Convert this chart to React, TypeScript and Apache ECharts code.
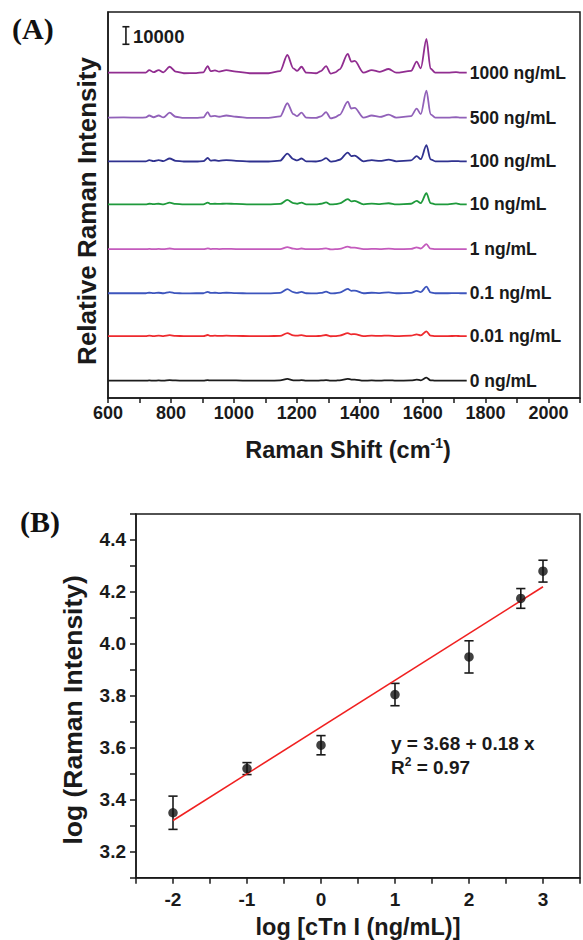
import React, { useEffect, useRef } from 'react';
import * as echarts from 'echarts';

// ---------- Panel A data ----------
const ramanShift = [600, 650, 700, 720, 731, 745, 761, 776, 796, 815, 841, 880, 903, 917, 926, 940, 953, 976, 1007, 1050, 1110, 1147, 1170, 1189, 1201, 1215, 1230, 1261, 1277, 1293, 1308, 1322, 1336, 1362, 1373, 1384, 1412, 1438, 1464, 1492, 1516, 1563, 1581, 1594, 1612, 1625, 1640, 1680, 1706, 1720, 1740];

const concLabels = ['0 ng/mL', '0.01 ng/mL', '0.1 ng/mL', '1 ng/mL', '10 ng/mL', '100 ng/mL', '500 ng/mL', '1000 ng/mL'];
const baselines = [9900, 35300, 59700, 84800, 110400, 134900, 159800, 185400];

const spec0 = [0, 0, 0, 0, 100, 0, 100, 0, 300, 100, 0, 0, 0, 300, 100, 100, 100, 100, 100, 0, 0, 100, 1000, 200, 100, 300, 0, 0, 100, 300, 0, 0, 200, 1000, 600, 600, 0, 100, 0, 200, 0, 100, 600, 200, 1700, 200, 0, 0, 0, 0, 0];
const spec001 = [0, 0, 0, 0, 200, 0, 200, 0, 500, 100, 0, 0, 0, 600, 100, 200, 100, 200, 100, 0, 0, 100, 1700, 400, 200, 500, 0, 0, 100, 600, -100, 0, 300, 1700, 1000, 1100, 0, 200, 100, 300, 0, 200, 1000, 400, 2700, 300, 0, 0, 100, 0, 0];
const spec01 = [0, 0, 0, 0, 300, 100, 300, 0, 700, 100, -100, 0, 0, 800, 200, 300, 100, 300, 100, -100, -100, 200, 2400, 600, 200, 800, 0, -100, 200, 900, -100, 0, 400, 2500, 1400, 1500, 0, 300, 100, 500, 0, 200, 1400, 600, 3800, 500, 0, 0, 100, 0, 0];
const spec1 = [0, 0, 0, 0, 200, 0, 200, 0, 400, 100, 0, 0, 0, 500, 100, 200, 100, 200, 100, 0, 0, 100, 1200, 300, 100, 400, 0, 0, 200, 500, -100, 0, 200, 1500, 900, 900, 0, 200, 100, 300, 0, 200, 1100, 400, 2900, 300, 0, 0, 100, 0, 0];
const spec10 = [0, 0, 0, 0, 300, 100, 300, 0, 900, 200, -100, -100, 0, 1000, 200, 300, 200, 400, 200, -100, -100, 200, 2500, 700, 300, 1000, 0, -100, 300, 1100, -100, 100, 500, 3000, 1700, 1900, 0, 400, 100, 600, 0, 300, 2000, 700, 6300, 700, 0, 0, 500, 0, 0];
const spec100 = [0, 0, 0, 0, 700, 100, 700, 100, 1600, 300, -100, -100, 100, 1900, 400, 600, 300, 700, 300, -100, -100, 400, 4400, 1200, 500, 1600, 0, -100, 400, 1800, -200, 100, 900, 5000, 3000, 3200, 0, 700, 200, 1000, 0, 500, 3000, 1200, 9200, 1100, 0, 0, 100, 0, 0];
const spec500 = [0, 100, 0, 100, 1200, 200, 1200, 100, 2800, 500, -200, -200, 100, 3100, 700, 1000, 500, 1200, 500, -200, -200, 700, 8200, 2000, 800, 2800, 0, -200, 700, 3100, -400, 200, 1600, 9100, 5200, 5500, 0, 1200, 400, 1700, 0, 800, 5100, 2000, 15400, 1900, 0, 0, 200, 0, 0];
const spec1000 = [0, 100, 0, 100, 1500, 300, 1500, 200, 3400, 600, -300, -200, 200, 3800, 900, 1300, 600, 1500, 600, -300, -300, 900, 10100, 2500, 1000, 3400, 0, -300, 900, 3800, -500, 200, 1900, 10700, 6300, 6700, 0, 1500, 500, 2100, 0, 1000, 6300, 2500, 19200, 2300, 0, 0, 300, 0, 0];
const spectra = [spec0, spec001, spec01, spec1, spec10, spec100, spec500, spec1000];

const scaleBarX = 657;
const scaleBarRange = [201600, 211600]; // 10000 counts
const scaleBarLabel = '10000';

// ---------- Panel B data ----------
const logConc = [-2, -1, 0, 1, 2, 2.7, 3];
const logIntensity = [3.35, 3.52, 3.61, 3.805, 3.95, 4.175, 4.28];
const logIntensityErr = [0.064, 0.023, 0.037, 0.043, 0.062, 0.038, 0.042];
const fitIntercept = 3.68;
const fitSlope = 0.18;
const fitRange = [-2, 3];
const r2 = '0.97';

// ---------- styles ----------
const lineColors = ['#1c1c1c', '#ee2a2e', '#3d55bd', '#c45bbd', '#1f9a3c', '#2f318f', '#9161b9', '#912d90'];
const FONT = '"Liberation Sans", Arial, sans-serif';
const SERIF = '"Liberation Serif", "Times New Roman", serif';
const INK = '#1a1a1a';

export default function App() {
  const ref = useRef<HTMLDivElement>(null);

  useEffect(() => {
    if (!ref.current) return;
    const chart = echarts.init(ref.current, undefined, { renderer: 'svg' });

    const spectraSeries = spectra.map((s, k) => ({
      type: 'line',
      name: concLabels[k],
      xAxisIndex: 0,
      yAxisIndex: 0,
      data: ramanShift.map((x, i) => [x, baselines[k] + s[i]]),
      showSymbol: false,
      smooth: 0.3,
      smoothMonotone: 'x',
      lineStyle: { color: lineColors[k], width: 1.8 },
      itemStyle: { color: lineColors[k] },
      endLabel: {
        show: true,
        formatter: '{a}',
        color: INK,
        fontFamily: FONT,
        fontWeight: 'bold',
        fontSize: 17.5,
        distance: 3,
      },
      silent: true,
    }));

    const option: any = {
      animation: false,
      backgroundColor: '#fff',
      grid: [
        { left: 108, top: 12, width: 481.5, height: 386, show: true, borderColor: INK, borderWidth: 1.5 },
        { left: 136, top: 514, width: 453.4, height: 363.7, show: true, borderColor: INK, borderWidth: 1.5 },
      ],
      xAxis: [
        {
          gridIndex: 0,
          type: 'value',
          min: 600,
          max: 2100,
          interval: 100,
          axisLine: { show: true, onZero: false, lineStyle: { color: INK, width: 1.5 } },
          axisTick: { show: true, length: 5, lineStyle: { color: INK, width: 1.5 } },
          splitLine: { show: false },
          axisLabel: {
            formatter: (v: number) => (v % 200 === 0 ? String(v) : ''),
            color: INK,
            fontFamily: FONT,
            fontWeight: 'bold',
            fontSize: 18,
            margin: 6,
          },
          name: 'Raman Shift (cm{sup|-1})',
          nameLocation: 'middle',
          nameGap: 38,
          nameTextStyle: {
            color: INK,
            fontFamily: FONT,
            fontWeight: 'bold',
            fontSize: 23.5,
            lineHeight: 28,
            padding: [0, 0, 0, 8],
            rich: {
              sup: { fontFamily: FONT, fontWeight: 'bold', fontSize: 14, verticalAlign: 'top', lineHeight: 28, color: INK },
            },
          },
        },
        {
          gridIndex: 1,
          type: 'value',
          min: -2.5,
          max: 3.5,
          interval: 0.5,
          axisLine: { show: true, onZero: false, lineStyle: { color: INK, width: 1.5 } },
          axisTick: { show: true, length: 6, lineStyle: { color: INK, width: 1.5 } },
          splitLine: { show: false },
          axisLabel: {
            formatter: (v: number) => (Math.abs(v - Math.round(v)) < 1e-6 ? String(Math.round(v)) : ''),
            color: INK,
            fontFamily: FONT,
            fontWeight: 'bold',
            fontSize: 19,
            margin: 12,
          },
          name: 'log [cTn I (ng/mL)]',
          nameLocation: 'middle',
          nameGap: 37,
          nameTextStyle: { color: INK, fontFamily: FONT, fontWeight: 'bold', fontSize: 23.5 },
        },
      ],
      yAxis: [
        {
          gridIndex: 0,
          type: 'value',
          min: 0,
          max: 220000,
          axisLine: { show: true, onZero: false, lineStyle: { color: INK, width: 1.5 } },
          axisTick: { show: false },
          axisLabel: { show: false },
          splitLine: { show: false },
          name: 'Relative Raman Intensity',
          nameLocation: 'middle',
          nameGap: 8,
          nameTextStyle: { color: INK, fontFamily: FONT, fontWeight: 'bold', fontSize: 26, padding: [0, 12, 0, 0] },
        },
        {
          gridIndex: 1,
          type: 'value',
          min: 3.1,
          max: 4.5,
          interval: 0.1,
          axisLine: { show: true, onZero: false, lineStyle: { color: INK, width: 1.5 } },
          axisTick: { show: true, length: 6, lineStyle: { color: INK, width: 1.5 } },
          splitLine: { show: false },
          axisLabel: {
            formatter: (v: number) => {
              const k = Math.round(v * 10);
              return k % 2 === 0 ? (k / 10).toFixed(1) : '';
            },
            color: INK,
            fontFamily: FONT,
            fontWeight: 'bold',
            fontSize: 19,
            margin: 10,
          },
          name: 'log (Raman Intensity)',
          nameLocation: 'middle',
          nameGap: 50,
          nameTextStyle: { color: INK, fontFamily: FONT, fontWeight: 'bold', fontSize: 26.5, padding: [0, 28, 0, 0] },
        },
      ],
      series: [
        ...spectraSeries,
        {
          type: 'line',
          name: 'scalebar',
          xAxisIndex: 0,
          yAxisIndex: 0,
          data: scaleBarRange.map((y) => [scaleBarX, y]),
          symbol: 'rect',
          symbolSize: [7, 1.6],
          showSymbol: true,
          lineStyle: { color: INK, width: 1.6 },
          itemStyle: { color: INK },
          silent: true,
        },
        {
          type: 'line',
          name: 'fit',
          xAxisIndex: 1,
          yAxisIndex: 1,
          data: fitRange.map((x) => [x, fitIntercept + fitSlope * x]),
          showSymbol: false,
          lineStyle: { color: '#f02020', width: 1.6 },
          silent: true,
        },
        {
          type: 'custom',
          name: 'errorbars',
          xAxisIndex: 1,
          yAxisIndex: 1,
          data: logConc.map((x, i) => [x, logIntensity[i] - logIntensityErr[i], logIntensity[i] + logIntensityErr[i]]),
          renderItem: (params: any, api: any) => {
            const x = api.value(0);
            const lo = api.coord([x, api.value(1)]);
            const hi = api.coord([x, api.value(2)]);
            const w = 4.6;
            const st = { stroke: INK, lineWidth: 1.6 };
            return {
              type: 'group',
              children: [
                { type: 'line', shape: { x1: lo[0], y1: lo[1], x2: hi[0], y2: hi[1] }, style: st },
                { type: 'line', shape: { x1: lo[0] - w, y1: lo[1], x2: lo[0] + w, y2: lo[1] }, style: st },
                { type: 'line', shape: { x1: hi[0] - w, y1: hi[1], x2: hi[0] + w, y2: hi[1] }, style: st },
              ],
            };
          },
          silent: true,
          z: 3,
        },
        {
          type: 'scatter',
          name: 'points',
          xAxisIndex: 1,
          yAxisIndex: 1,
          data: logConc.map((x, i) => [x, logIntensity[i]]),
          symbol: 'circle',
          symbolSize: 9.5,
          itemStyle: { color: '#111' },
          silent: true,
          z: 4,
        },
      ],
      graphic: [
        {
          type: 'text',
          left: 12,
          top: 13,
          style: { text: '(A)', font: `bold 30px ${SERIF}`, fill: '#111' },
        },
        {
          type: 'text',
          left: 20,
          top: 506,
          style: { text: '(B)', font: `bold 30px ${SERIF}`, fill: '#111' },
        },
        {
          type: 'text',
          x: 133,
          y: 36,
          style: { text: scaleBarLabel, font: `bold 18.5px ${FONT}`, fill: INK, verticalAlign: 'middle' },
        },
        {
          type: 'text',
          x: 391,
          y: 743,
          style: {
            text: `y = ${fitIntercept.toFixed(2)} + ${fitSlope.toFixed(2)} x`,
            font: `bold 19px ${FONT}`,
            fill: INK,
            verticalAlign: 'middle',
          },
        },
        {
          type: 'text',
          x: 391,
          y: 767,
          style: {
            text: `R{sup|2} = ${r2}`,
            font: `bold 19px ${FONT}`,
            fill: INK,
            verticalAlign: 'middle',
            rich: {
              sup: { font: `bold 12px ${FONT}`, verticalAlign: 'top', lineHeight: 22 },
            },
            lineHeight: 22,
          },
        },
      ],
    };

    chart.setOption(option);
    return () => chart.dispose();
  }, []);

  return (
    <div
      ref={ref}
      style={{ position: 'fixed', left: 0, top: 0, width: 583, height: 940, background: '#fff' }}
    />
  );
}
